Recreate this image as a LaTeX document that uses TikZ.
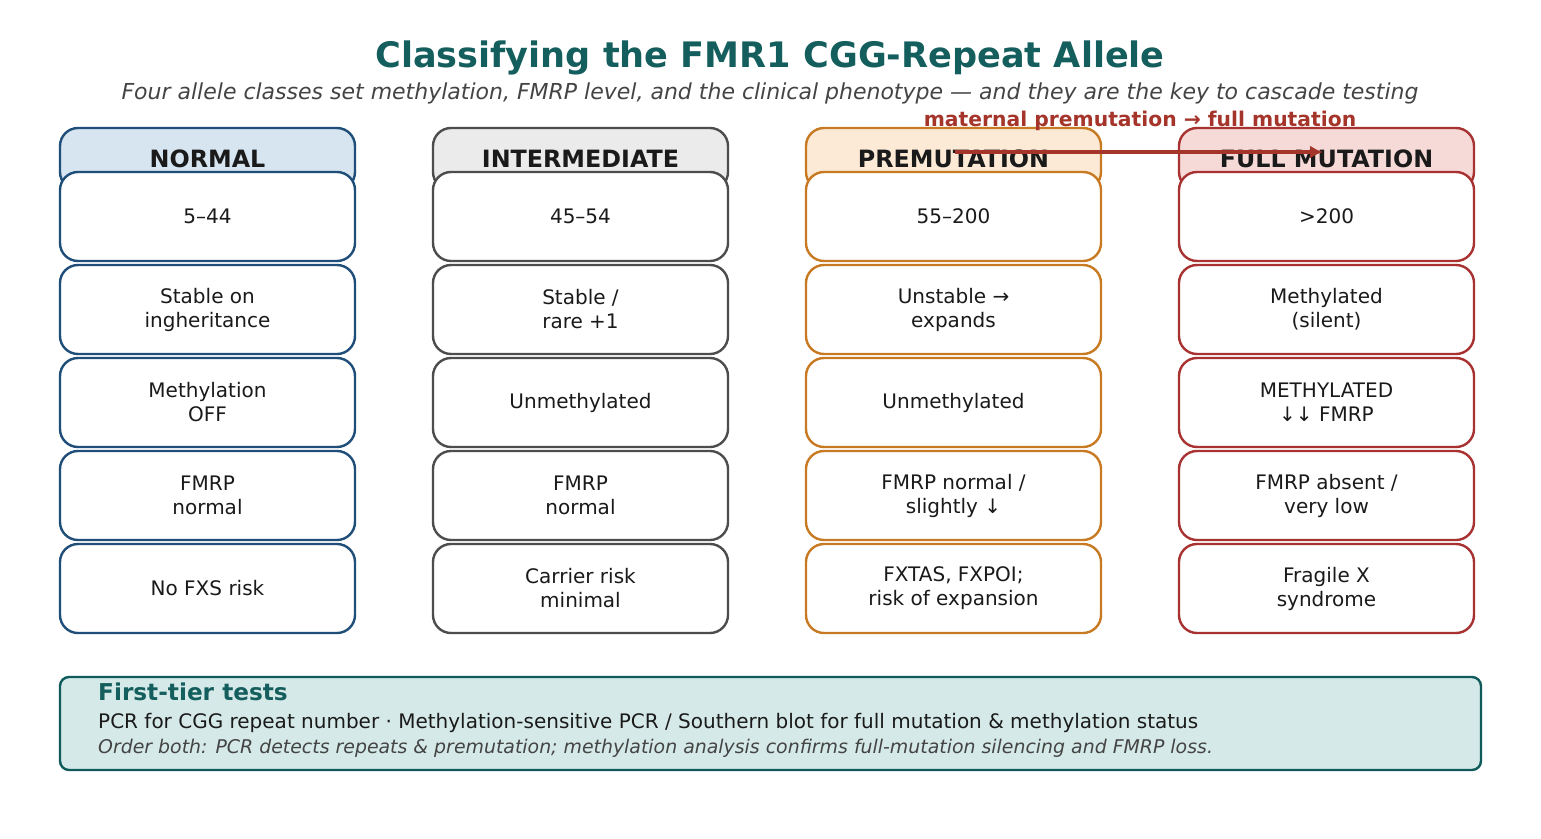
\documentclass[tikz,border=0pt]{standalone}
\usepackage{fontspec}
\setmainfont{DejaVu Sans}
\usetikzlibrary{arrows.meta}
\definecolor{teal1}{HTML}{155E5E}
\definecolor{subg}{HTML}{444444}
\definecolor{bluE}{HTML}{1F4E79}
\definecolor{blueF}{HTML}{D7E5F1}
\definecolor{grayE}{HTML}{4D4D4D}
\definecolor{grayF}{HTML}{EBEBEB}
\definecolor{orE}{HTML}{C87A22}
\definecolor{orF}{HTML}{FCEAD6}
\definecolor{redE}{HTML}{A83232}
\definecolor{redF}{HTML}{F6DAD8}
\definecolor{arrC}{HTML}{A5342B}
\definecolor{botF}{HTML}{D5EAE8}
\definecolor{botE}{HTML}{0F5A5A}
\definecolor{txt}{HTML}{1A1A1A}
\tikzset{
  hdr/.style={draw=#1, line width=2.4pt, rounded corners=18pt, minimum width=295pt, minimum height=62pt, inner sep=0pt, font=\fontsize{23.8}{27}\selectfont\bfseries, text=txt},
  cell/.style={draw=#1, fill=white, line width=2.4pt, rounded corners=18pt, minimum width=295pt, minimum height=89pt, inner sep=0pt, align=center, font=\fontsize{20}{24}\selectfont, text=txt},
}
\begin{document}
\begin{tikzpicture}[x=1pt,y=-1pt]
\useasboundingbox (0,0) rectangle (1541,838);
\fill[white] (0,0) rectangle (1541,838);
\node[font=\fontsize{35.1}{40}\selectfont\bfseries, text=teal1] (title) at (770,58) {Classifying the FMR1 CGG-Repeat Allele};
\node[font=\fontsize{22}{26}\selectfont\itshape, text=subg] (sub) at (770,93) {Four allele classes set methylation, FMRP level, and the clinical phenotype — and they are the key to cascade testing};

% column headers
\foreach \c/\x/\e/\f/\h in {1/207.5/bluE/blueF/NORMAL, 2/580.5/grayE/grayF/INTERMEDIATE, 3/953.5/orE/orF/PREMUTATION, 4/1326.5/redE/redF/FULL MUTATION}{
  \node[hdr=\e, fill=\f] (h\c) at (\x,159) {\h};
}
\node[cell=bluE] (a1) at (207.5,216.5) {5–44};
\node[cell=bluE] (a2) at (207.5,309.5) {Stable on\\ingheritance};
\node[cell=bluE] (a3) at (207.5,402.5) {Methylation\\OFF};
\node[cell=bluE] (a4) at (207.5,495.5) {FMRP\\normal};
\node[cell=bluE] (a5) at (207.5,588.5) {No FXS risk};

\node[cell=grayE] (b1) at (580.5,216.5) {45–54};
\node[cell=grayE] (b2) at (580.5,309.5) {Stable /\\rare +1};
\node[cell=grayE] (b3) at (580.5,402.5) {Unmethylated};
\node[cell=grayE] (b4) at (580.5,495.5) {FMRP\\normal};
\node[cell=grayE] (b5) at (580.5,588.5) {Carrier risk\\minimal};

\node[cell=orE] (c1) at (953.5,216.5) {55–200};
\node[cell=orE] (c2) at (953.5,309.5) {Unstable →\\expands};
\node[cell=orE] (c3) at (953.5,402.5) {Unmethylated};
\node[cell=orE] (c4) at (953.5,495.5) {FMRP normal /\\slightly ↓};
\node[cell=orE] (c5) at (953.5,588.5) {FXTAS, FXPOI;\\risk of expansion};

\node[cell=redE] (d1) at (1326.5,216.5) {>200};
\node[cell=redE] (d2) at (1326.5,309.5) {Methylated\\(silent)};
\node[cell=redE] (d3) at (1326.5,402.5) {METHYLATED\\↓↓ FMRP};
\node[cell=redE] (d4) at (1326.5,495.5) {FMRP absent /\\very low};
\node[cell=redE] (d5) at (1326.5,588.5) {Fragile X\\syndrome};

% arrow
\coordinate (arrS) at (955,152);
\coordinate (arrE) at (1323,152);
\draw[arrC, line width=4.5pt, -{Latex[length=13pt,width=13pt]}] (arrS) -- (arrE);
\node[font=\fontsize{20.3}{24}\selectfont\bfseries, text=arrC] (arrlbl) at (1140,121) {maternal premutation → full mutation};

% bottom box
\node[draw=botE, fill=botF, line width=2.4pt, rounded corners=9pt, minimum width=1421pt, minimum height=93pt, inner sep=0pt] (bot) at (770.5,723.5) {};
\node[anchor=west, font=\fontsize{23.2}{27}\selectfont\bfseries, text=teal1, inner sep=0pt] (bt1) at (98,692) {First-tier tests};
\node[anchor=west, font=\fontsize{20}{24}\selectfont, text=txt, inner sep=0pt] (bt2) at (98,723) {PCR for CGG repeat number · Methylation-sensitive PCR / Southern blot for full mutation \& methylation status};
\node[anchor=west, font=\fontsize{18.9}{22}\selectfont\itshape, text=subg, inner sep=0pt] (bt3) at (98,748) {Order both: PCR detects repeats \& premutation; methylation analysis confirms full-mutation silencing and FMRP loss.};
\end{tikzpicture}
\end{document}
